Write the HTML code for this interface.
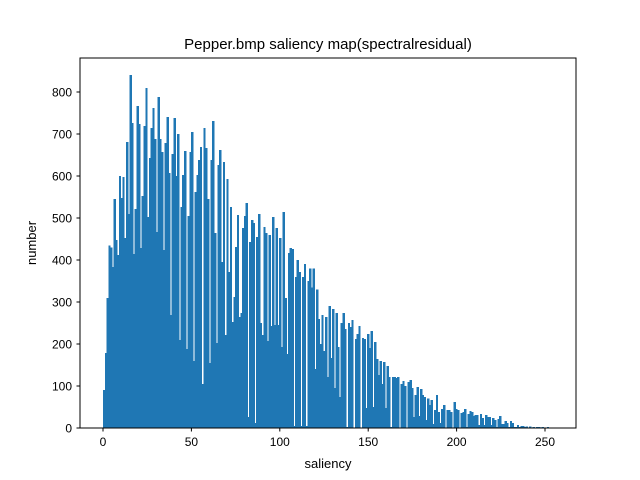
<!DOCTYPE html>
<html><head><meta charset="utf-8"><style>
body{margin:0;background:#fff;}
svg{display:block;font-family:"Liberation Sans","DejaVu Sans",sans-serif;}
</style></head><body>
<svg id="chart" width="640" height="480">
<rect x="0" y="0" width="640" height="480" fill="#fff"/>
<g id="bars"></g>
<rect x="80" y="58" width="496" height="370" fill="none" stroke="#000" stroke-width="1"/>
<g id="xt"></g>
<g id="yt"></g>
<text x="328" y="49" font-size="15" text-anchor="middle">Pepper.bmp saliency map(spectralresidual)</text>
<text x="328" y="468" font-size="13" text-anchor="middle">saliency</text>
<text transform="translate(36,243) rotate(-90)" font-size="13" text-anchor="middle">number</text>
</svg>
<script>
const counts = [90,178,309,435,430,383,545,448,412,600,548,598,452,681,510,840,726,414,521,767,724,429,552,719,810,502,643,714,762,688,467,788,688,657,424,679,740,607,269,652,738,
600,700,210,526,602,660,188,505,657,705,160,562,602,638,669,105,714,667,545,155,638,731,464,202,626,662,395,633,221,593,371,526,252,312,431,507,264,274,476,505,536,26,
443,495,488,12,455,510,250,221,479,464,207,460,243,502,245,476,245,452,193,514,310,176,417,429,426,5,360,400,371,5,360,390,5,350,380,335,380,140,330,260,200,
269,183,264,121,290,167,283,95,274,193,74,250,274,236,2,250,240,257,0,212,224,243,0,214,212,48,224,190,231,50,205,164,126,160,105,157,48,148,121,2,121,
121,119,121,0,105,112,100,0,110,114,95,26,79,98,29,93,79,74,19,70,55,67,10,43,79,38,12,45,55,0,43,43,38,0,62,45,43,0,36,38,45,2,33,40,38,
29,31,31,7,33,24,7,31,26,26,7,24,19,2,21,29,10,10,17,12,2,17,12,2,2,7,2,5,5,2,4,1,3,0,2,0,2,2,0,2,0,
0,2,0,0,0];
const xTicks = [0,50,100,150,200,250];
const yTicks = [0,100,200,300,400,500,600,700,800];
const binLo = 0, binHi = 255;

const NS = "http://www.w3.org/2000/svg";
function xs(v){ return 103 + v * 1.768; }
function ys(v){ return 428 - v * 0.42; }
const bars = document.getElementById('bars');
const w = (binHi - binLo) / counts.length;
counts.forEach((c, i) => {
  const r = document.createElementNS(NS, 'rect');
  const x0 = xs(binLo + i * w), x1 = xs(binLo + (i + 1) * w);
  r.setAttribute('x', x0);
  r.setAttribute('width', x1 - x0 + 0.6);
  r.setAttribute('y', ys(c));
  r.setAttribute('height', ys(0) - ys(c));
  r.setAttribute('fill', '#1f77b4');
  r.setAttribute('shape-rendering', 'crispEdges');
  
  
  bars.appendChild(r);
});
const xt = document.getElementById('xt');
xTicks.forEach(t => {
  const l = document.createElementNS(NS, 'line');
  l.setAttribute('x1', xs(t)); l.setAttribute('x2', xs(t));
  l.setAttribute('y1', 428); l.setAttribute('y2', 431.5);
  l.setAttribute('stroke', '#000');
  
  
  xt.appendChild(l);
  const s = document.createElementNS(NS, 'text');
  s.setAttribute('x', xs(t)); s.setAttribute('y', 446);
  s.setAttribute('font-size', '12'); s.setAttribute('text-anchor', 'middle');
  s.textContent = t;
  
  
  xt.appendChild(s);
});
const yt = document.getElementById('yt');
yTicks.forEach(t => {
  const l = document.createElementNS(NS, 'line');
  l.setAttribute('x1', 76.5); l.setAttribute('x2', 80);
  l.setAttribute('y1', ys(t)); l.setAttribute('y2', ys(t));
  l.setAttribute('stroke', '#000');
  
  
  yt.appendChild(l);
  const s = document.createElementNS(NS, 'text');
  s.setAttribute('x', 72); s.setAttribute('y', ys(t) + 4.5);
  s.setAttribute('font-size', '12'); s.setAttribute('text-anchor', 'end');
  s.textContent = t;
  
  
  yt.appendChild(s);
});
</script>
</body></html>
